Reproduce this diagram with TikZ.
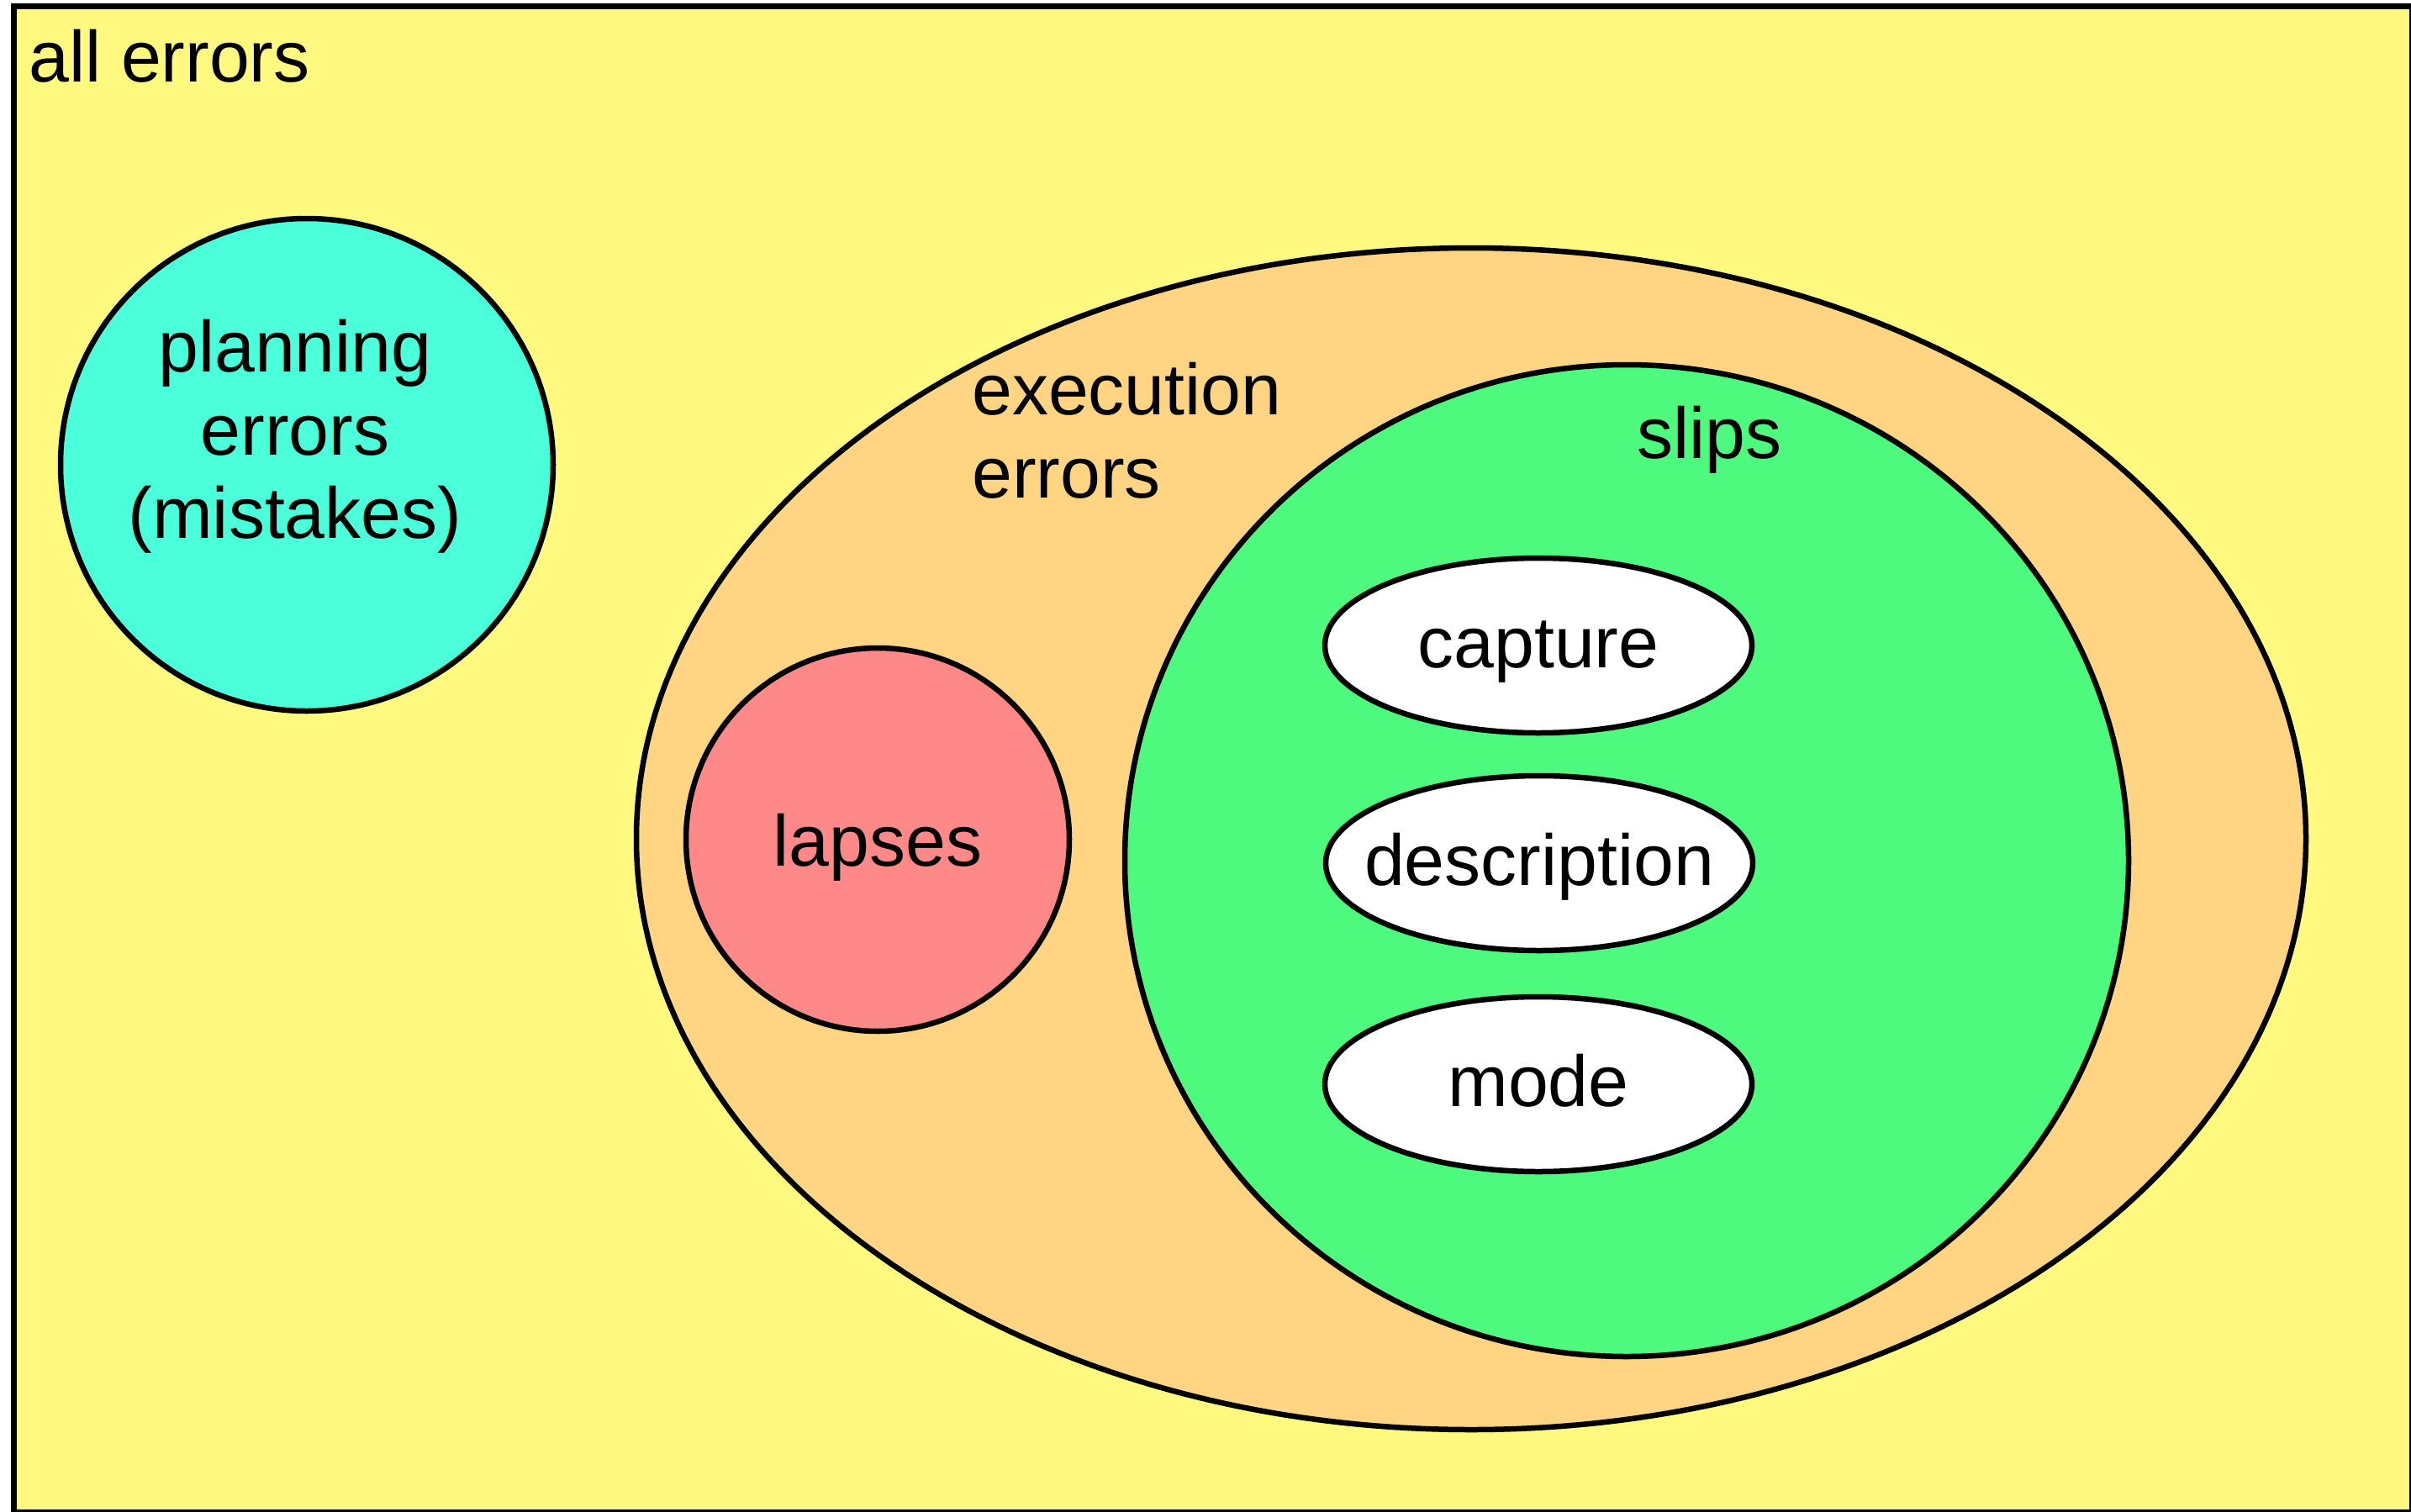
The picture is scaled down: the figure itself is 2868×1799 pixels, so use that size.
\documentclass[tikz,border=0pt]{standalone}
\usepackage{fontspec}
\setmainfont{Liberation Sans}
\usetikzlibrary{shapes.geometric}
\definecolor{allc}{RGB}{255,249,128}
\definecolor{planc}{RGB}{74,255,217}
\definecolor{execc}{RGB}{255,213,131}
\definecolor{lapsec}{RGB}{255,136,136}
\definecolor{slipc}{RGB}{77,250,126}
\begin{document}
\begin{tikzpicture}[x=1pt,y=-1pt,
  every node/.style={font=\fontsize{86}{99}\selectfont},
  region/.style={draw=black, line width=6.5pt, inner sep=0pt, text height=69pt, text depth=17pt},
  slipkind/.style={region, ellipse, fill=white, minimum width=508, minimum height=208, inner xsep=-120pt},
  lbl/.style={inner sep=0pt}]
\useasboundingbox (0,0) rectangle (2868,1799);
\fill[white] (0,0) rectangle (2868,1799);
\node[draw=black, line width=7pt, fill=allc, minimum width=2853, minimum height=1792, inner sep=0pt, anchor=north west] (all) at (13,4) {};
\node[lbl, anchor=base west] (alltext) at (34,97) {all errors};
\node[region, circle, fill=planc, minimum size=586] (plan) at (365,553) {};
\node[lbl, align=center, anchor=base] (plantext) at (351,640) {planning\\errors\\(mistakes)};
\node[region, ellipse, fill=execc, minimum width=1986, minimum height=1406] (exec) at (1750,998) {};
\node[lbl, align=left, anchor=base west] (exectext) at (1156,592) {execution\\errors};
\node[region, circle, fill=lapsec, minimum size=456, text height=74pt, text depth=12pt] (lapses) at (1044,999) {lapses};
\node[region, ellipse, fill=slipc, minimum width=1194, minimum height=1180] (slips) at (1935,1024) {};
\node[lbl, anchor=base] (sliptext) at (2033,545) {slips};
\node[slipkind] (capture) at (1830,768) {capture};
\node[slipkind] (description) at (1831,1027) {description};
\node[slipkind] (mode) at (1830,1290) {mode};
\end{tikzpicture}
\end{document}
